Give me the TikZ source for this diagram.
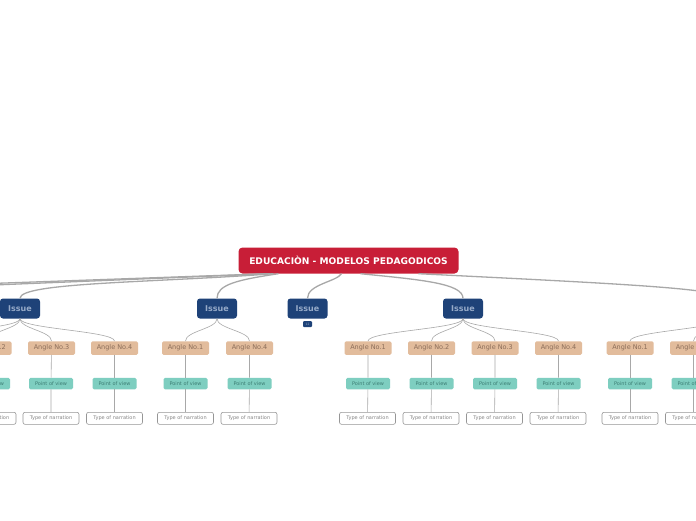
\documentclass[tikz,border=0pt]{standalone}
\usepackage{fontspec}
\setmainfont{DejaVu Sans}
\usepackage{xcolor}
\definecolor{MainRed}{RGB}{200, 30, 55}
\definecolor{IssueBlue}{RGB}{30, 66, 120}
\definecolor{IssueText}{RGB}{150, 170, 200}
\definecolor{AngleTan}{RGB}{226, 188, 156}
\definecolor{AngleText}{RGB}{140, 110, 90}
\definecolor{ViewTeal}{RGB}{126, 206, 192}
\definecolor{ViewText}{RGB}{60, 125, 115}
\definecolor{NarrGrey}{RGB}{150, 150, 150}
\definecolor{NarrText}{RGB}{135, 135, 135}
\definecolor{LinkGrey}{RGB}{168, 168, 168}

\begin{document}
\begin{tikzpicture}[x=1pt, y=-1pt,
    mainbox/.style={fill=MainRed, text=white, rounded corners=4pt, minimum width=220pt, minimum height=26pt, inner sep=0pt, font=\bfseries\fontsize{9.1}{9}\selectfont},
    issue/.style={fill=IssueBlue, text=IssueText, rounded corners=3pt, minimum width=40pt, minimum height=20pt, inner sep=0pt, font=\bfseries\fontsize{8}{8}\selectfont},
    badge/.style={fill=IssueBlue, text=IssueText, rounded corners=1pt, minimum width=9pt, minimum height=6pt, inner sep=0pt, font=\fontsize{3}{3}\selectfont},
    angle/.style={fill=AngleTan, text=AngleText, rounded corners=1.5pt, minimum width=47pt, minimum height=13.5pt, inner sep=0pt, font=\fontsize{6.5}{6.5}\selectfont},
    view/.style={fill=ViewTeal, text=ViewText, rounded corners=1.5pt, minimum width=44pt, minimum height=11.5pt, inner sep=0pt, font=\fontsize{5}{5}\selectfont},
    narr/.style={draw=NarrGrey, fill=white, text=NarrText, line width=0.6pt, rounded corners=2pt, minimum width=56pt, minimum height=12pt, inner sep=0pt, font=\fontsize{5}{5}\selectfont},
    link/.style={draw=LinkGrey, line width=1.3pt},
    twig/.style={draw=LinkGrey, line width=0.6pt}]
            \useasboundingbox (0,0) rectangle (696,520);
            \fill[white] (0,0) rectangle (696,520);
            \clip (0,0) rectangle (696,520);

            % Central topic
            \node[mainbox] (main) at (348.5,260.5) {EDUCACIÒN - MODELOS PEDAGODICOS};

            % Issues
            \node[issue] (iss1) at (20,308.5) {Issue};
            \node[issue] (iss2) at (217,308.5) {Issue};
            \node[issue] (iss3) at (307.5,308.5) {Issue};
            \node[badge] (cnt) at (307.5,324) {12};
            \node[issue] (iss4) at (463,308.5) {Issue};
            \coordinate (issRtop) at (724,298.5);
            \coordinate (issRbot) at (724,318.5);
            \coordinate (offL1) at (-80,286);
            \coordinate (offL2) at (-80,288);
            \coordinate (ang11) at (-75,341.3);

            % Main branches
            \draw[link] ([xshift=-80pt]main.south) -- (offL1);
            \draw[link] ([xshift=-78pt]main.south) -- (offL2);
            \draw[link] ([xshift=-75pt]main.south) .. controls +(-120,9) and +(0,-16) .. (iss1.north);
            \draw[link] ([xshift=-70pt]main.south) .. controls +(-40,6) and +(0,-14) .. (iss2.north);
            \draw[link] ([xshift=-7pt]main.south) .. controls +(-5,8) and +(0,-14) .. (iss3.north);
            \draw[link] ([xshift=12pt]main.south) .. controls +(60,6) and +(0,-15) .. (iss4.north);
            \draw[link] ([xshift=70pt]main.south) .. controls +(200,10) and +(0,-10) .. (issRtop);

            % Issue 1
            \node[angle] (a12) at (-12,348) {Angle No.2};
            \node[angle] (a13) at (51.5,348) {Angle No.3};
            \node[angle] (a14) at (114.5,348) {Angle No.4};
            \node[view] (v12) at (-12,383.5) {Point of view};
            \node[view] (v13) at (51,383.5) {Point of view};
            \node[view] (v14) at (114.5,383.5) {Point of view};
            \node[narr] (n12) at (-12,418.3) {Type of narration};
            \node[narr] (n13) at (51,418.3) {Type of narration};
            \node[narr] (n14) at (114.5,418.3) {Type of narration};

            % Issue 2
            \node[angle] (a21) at (185.5,348) {Angle No.1};
            \node[angle] (a24) at (249.5,348) {Angle No.4};
            \node[view] (v21) at (185.5,383.5) {Point of view};
            \node[view] (v24) at (249.5,383.5) {Point of view};
            \node[narr] (n21) at (185.5,418.3) {Type of narration};
            \node[narr] (n24) at (249,418.3) {Type of narration};

            % Issue 4
            \node[angle] (a41) at (368,348) {Angle No.1};
            \node[angle] (a42) at (431.5,348) {Angle No.2};
            \node[angle] (a43) at (495,348) {Angle No.3};
            \node[angle] (a44) at (558.5,348) {Angle No.4};
            \node[view] (v41) at (368,383.5) {Point of view};
            \node[view] (v42) at (431.5,383.5) {Point of view};
            \node[view] (v43) at (495,383.5) {Point of view};
            \node[view] (v44) at (558.5,383.5) {Point of view};
            \node[narr] (n41) at (367.5,418.3) {Type of narration};
            \node[narr] (n42) at (431,418.3) {Type of narration};
            \node[narr] (n43) at (494.5,418.3) {Type of narration};
            \node[narr] (n44) at (558,418.3) {Type of narration};

            % Issue off the right edge
            \node[angle] (aR1) at (630,348) {Angle No.1};
            \node[angle] (aR2) at (693.5,348) {Angle No.2};
            \node[view] (vR1) at (630,383.5) {Point of view};
            \node[view] (vR2) at (693.5,383.5) {Point of view};
            \node[narr] (nR1) at (630,418.3) {Type of narration};
            \node[narr] (nR2) at (693.5,418.3) {Type of narration};

            % Issue to angle links
            \draw[twig] (iss1.south) .. controls +(0,10) and +(0,-10) .. (ang11);
            \draw[twig] (iss1.south) .. controls +(0,10) and +(0,-10) .. (a12.north);
            \draw[twig] (iss1.south) .. controls +(0,10) and +(0,-10) .. (a13.north);
            \draw[twig] (iss1.south) .. controls +(0,10) and +(0,-10) .. (a14.north);
            \draw[twig] (iss2.south) .. controls +(0,10) and +(0,-10) .. (a21.north);
            \draw[twig] (iss2.south) .. controls +(0,10) and +(0,-10) .. (a24.north);
            \draw[twig] (iss4.south) .. controls +(0,10) and +(0,-10) .. (a41.north);
            \draw[twig] (iss4.south) .. controls +(0,10) and +(0,-10) .. (a42.north);
            \draw[twig] (iss4.south) .. controls +(0,10) and +(0,-10) .. (a43.north);
            \draw[twig] (iss4.south) .. controls +(0,10) and +(0,-10) .. (a44.north);
            \draw[twig] (issRbot) .. controls +(0,10) and +(0,-10) .. (aR1.north);
            \draw[twig] (issRbot) .. controls +(0,10) and +(0,-10) .. (aR2.north);

            % Angle to view to narration
            \draw[twig] (a12) -- (v12) -- (n12);
            \draw[twig] (a13) -- (v13) -- (n13);
            \draw[twig] (a14) -- (v14) -- (n14);
            \draw[twig] (a21) -- (v21) -- (n21);
            \draw[twig] (a24) -- (v24) -- (n24);
            \draw[twig] (a41) -- (v41) -- (n41);
            \draw[twig] (a42) -- (v42) -- (n42);
            \draw[twig] (a43) -- (v43) -- (n43);
            \draw[twig] (a44) -- (v44) -- (n44);
            \draw[twig] (aR1) -- (vR1) -- (nR1);
            \draw[twig] (aR2) -- (vR2) -- (nR2);
        \end{tikzpicture}
\end{document}
